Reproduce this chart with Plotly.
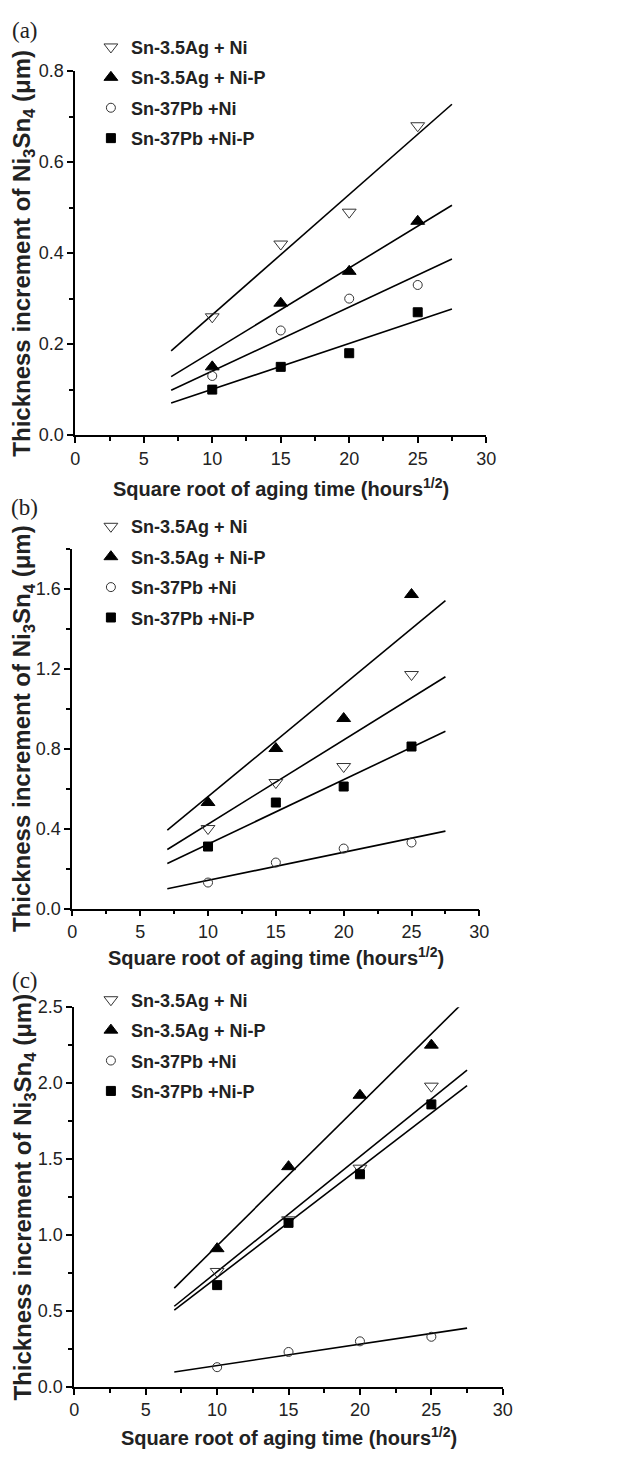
import numpy as np
import plotly.graph_objects as go

# ---------------- data ----------------
aging_sqrt = [10, 15, 20, 25]          # square root of aging time (hours^1/2)
fit_span = [7, 27.5]                   # x-extent of the fitted lines

series_names = ["Sn-3.5Ag + Ni", "Sn-3.5Ag + Ni-P", "Sn-37Pb +Ni", "Sn-37Pb +Ni-P"]

# panel (a)
a_snag_ni = [0.26, 0.42, 0.49, 0.68]
a_snag_nip = [0.15, 0.29, 0.36, 0.47]
a_snpb_ni = [0.13, 0.23, 0.30, 0.33]
a_snpb_nip = [0.10, 0.15, 0.18, 0.27]
# panel (b)
b_snag_ni = [0.40, 0.63, 0.71, 1.17]
b_snag_nip = [0.53, 0.80, 0.95, 1.57]
b_snpb_ni = [0.13, 0.23, 0.30, 0.33]
b_snpb_nip = [0.31, 0.53, 0.61, 0.81]
# panel (c)
c_snag_ni = [0.76, 1.10, 1.44, 1.98]
c_snag_nip = [0.91, 1.45, 1.92, 2.25]
c_snpb_ni = [0.13, 0.23, 0.30, 0.33]
c_snpb_nip = [0.67, 1.08, 1.40, 1.86]

x_ticks = [0, 5, 10, 15, 20, 25, 30]
panel_labels = ["(a)", "(b)", "(c)"]
y_title = "Thickness increment of Ni<sub>3</sub>Sn<sub>4</sub> (μm)"
x_title = "Square root of aging time (hours<sup>1/2</sup>)"

# ---------------- styling ----------------
W, H = 626, 1462
FONT = "Liberation Sans, Arial, sans-serif"
SERIF = "Liberation Serif, Times New Roman, serif"
symbols = ["triangle-down-open", "triangle-up", "circle-open", "square"]
sizes = [12, 12, 9, 9]
colors = ["#333", "black", "#333", "black"]


def fx(px):
    return px / W


def fy(py):
    return 1 - py / H


# pixel boxes of the three plot areas: (left, right, top, bottom)
boxes = [(72, 493, 62, 431), (69, 486, 546, 911), (71, 510, 1011, 1396)]
y_ranges = [(0, 0.8), (0, 1.8), (0, 2.5)]
y_dticks = [0.2, 0.4, 0.5]
legend_tops = [19, 505, 985]
label_y = [21, 504, 984]
xtitle_y = [484, 960, 1446]

panels = [
    [a_snag_ni, a_snag_nip, a_snpb_ni, a_snpb_nip],
    [b_snag_ni, b_snag_nip, b_snpb_ni, b_snpb_nip],
    [c_snag_ni, c_snag_nip, c_snpb_ni, c_snpb_nip],
]

fig = go.Figure()
xarr = np.array(aging_sqrt, dtype=float)
xfit = np.array(fit_span, dtype=float)

annotations = []
for p, series in enumerate(panels):
    sfx = "" if p == 0 else str(p + 1)
    xa, ya = "x" + sfx, "y" + sfx
    leg = "legend" + sfx
    # fitted lines (parabolic growth law, through the origin)
    for s, vals in enumerate(series):
        yv = np.array(vals, dtype=float)
        k = np.sum(xarr * yv) / np.sum(xarr * xarr)
        fig.add_trace(go.Scatter(
            x=xfit, y=k * xfit, mode="lines", xaxis=xa, yaxis=ya,
            line=dict(color="black", width=1.6), showlegend=False, hoverinfo="skip"))
    for s, vals in enumerate(series):
        fig.add_trace(go.Scatter(
            x=aging_sqrt, y=vals, mode="markers", xaxis=xa, yaxis=ya,
            name="<b>" + series_names[s] + "</b>", legend=leg, legendgroup=f"g{p}{s}",
            marker=dict(symbol=symbols[s], size=sizes[s], color=colors[s],
                        line=dict(width=1, color=colors[s]))))

    l, r, t, b = boxes[p]
    fig.update_layout({
        "xaxis" + sfx: dict(
            domain=[fx(l), fx(r)], anchor=ya, range=[0, 30],
            tickvals=x_ticks, ticks="outside", ticklen=6, tickwidth=1.5, tickcolor="black",
            minor=dict(ticks="outside", ticklen=4, tickwidth=1.5, tickcolor="black", dtick=2.5, tick0=0),
            showline=True, linecolor="black", linewidth=1.8, showgrid=False, zeroline=False,
            tickfont=dict(family=FONT, size=18, color="#222")),
        "yaxis" + sfx: dict(
            domain=[fy(b), fy(t)], anchor=xa, range=list(y_ranges[p]),
            dtick=y_dticks[p], tick0=0, tickformat=".1f",
            ticks="outside", ticklen=6, tickwidth=1.5, tickcolor="black",
            minor=dict(ticks="outside", ticklen=4, tickwidth=1.5, tickcolor="black",
                       dtick=y_dticks[p] / 2, tick0=0),
            showline=True, linecolor="black", linewidth=1.8, showgrid=False, zeroline=False,
            tickfont=dict(family=FONT, size=18, color="#222")),
        leg: dict(x=fx(88), y=fy(legend_tops[p]), xanchor="left", yanchor="top",
                  bgcolor="rgba(0,0,0,0)", traceorder="grouped", tracegroupgap=4,
                  font=dict(family=FONT, size=18, color="#222"), itemwidth=30),
    })
    annotations.append(dict(text="<b>" + x_title + "</b>", x=fx((l + r) / 2), y=fy(xtitle_y[p]),
                            xref="paper", yref="paper", showarrow=False,
                            xanchor="center", yanchor="middle",
                            font=dict(family=FONT, size=20, color="#222")))
    annotations.append(dict(text="<b>" + y_title + "</b>", x=fx(19), y=fy((t + b) / 2),
                            xref="paper", yref="paper", showarrow=False, textangle=-90,
                            xanchor="center", yanchor="middle",
                            font=dict(family=FONT, size=24, color="#222")))
    annotations.append(dict(text=panel_labels[p], x=fx(20), y=fy(label_y[p]),
                            xref="paper", yref="paper", showarrow=False,
                            xanchor="center", yanchor="middle",
                            font=dict(family=SERIF, size=23, color="#222")))

fig.update_layout(
    width=W, height=H, margin=dict(l=0, r=0, t=0, b=0),
    paper_bgcolor="white", plot_bgcolor="white",
    annotations=annotations,
)

fig.write_html("out.html", config={"displayModeBar": False},
               post_script="document.body.style.margin='0px';")
